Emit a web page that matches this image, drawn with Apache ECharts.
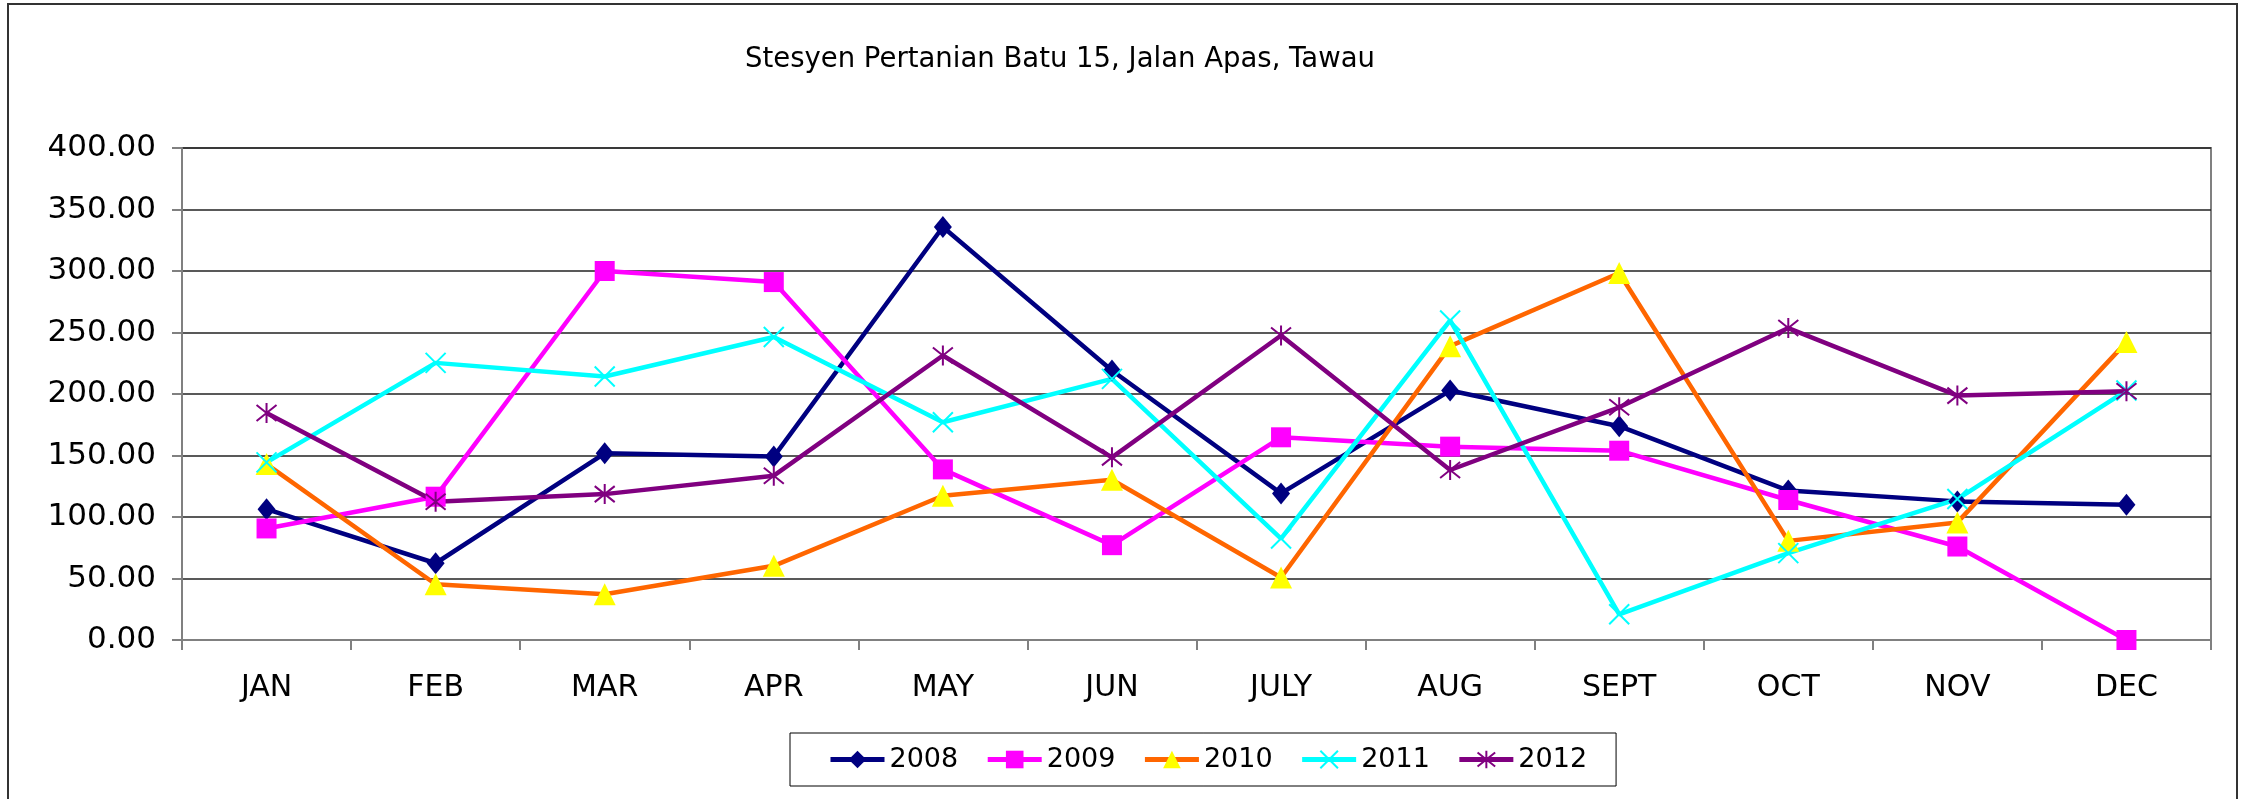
<!DOCTYPE html>
<html>
<head>
<meta charset="utf-8">
<script src="https://cdn.jsdelivr.net/npm/echarts@6/dist/echarts.min.js"></script>
<style>
html,body{margin:0;padding:0;background:#fff;}
#chart{width:2249px;height:799px;}
</style>
</head>
<body>
<div id="chart"></div>
<script>
const titleText = 'Stesyen Pertanian Batu 15, Jalan Apas, Tawau';
const months = ['JAN','FEB','MAR','APR','MAY','JUN','JULY','AUG','SEPT','OCT','NOV','DEC'];
const yTicks = [0, 50, 100, 150, 200, 250, 300, 350, 400];
const s2008 = [106.4, 62.4, 151.8, 149.1, 335.8, 219.1, 119.2, 202.8, 173.8, 121.5, 112.7, 110.0];
const s2009 = [90.7, 116.5, 300.0, 291.0, 138.7, 77.1, 164.8, 157.2, 153.9, 113.8, 76.0, 0.0];
const s2010 = [143.0, 45.3, 37.2, 60.3, 117.3, 130.3, 50.8, 238.9, 298.4, 80.6, 95.6, 242.2];
const s2011 = [144.4, 225.3, 214.2, 246.3, 177.0, 212.3, 82.5, 259.8, 20.9, 70.6, 114.6, 202.8];
const s2012 = [184.6, 112.4, 118.6, 133.6, 231.3, 148.5, 247.6, 138.2, 189.2, 253.6, 198.7, 202.3];

const FONT = 'DejaVu Sans';
const chart = echarts.init(document.getElementById('chart'), null, {renderer: 'canvas'});

const xPath = 'path://M0,0L20,20M20,0L0,20';
const starPath = 'path://M0,2L20,18M20,2L0,18M10,0L10,20';

function mk(name, data, lineColor, markColor, symbol, size, stroke) {
  return {
    name: name, type: 'line', data: data,
    symbol: symbol, symbolSize: size,
    lineStyle: {color: lineColor, width: 4.5},
    itemStyle: stroke ? {color: 'rgba(0,0,0,0)', borderColor: markColor, borderWidth: 2}
                      : {color: markColor, borderColor: markColor, borderWidth: 0},
    emphasis: {disabled: true}
  };
}

chart.setOption({
  animation: false,
  backgroundColor: '#fff',
  title: {
    text: titleText, left: 1055, top: 41, textAlign: 'center',
    textStyle: {fontFamily: FONT, fontSize: 27.5, fontWeight: 'normal', color: '#000'}
  },
  graphic: [{
    type: 'rect', shape: {x: 8, y: 4, width: 2229, height: 820},
    style: {fill: 'none', stroke: '#333', lineWidth: 2}, silent: true
  }],
  grid: {left: 182, right: 38, top: 148, bottom: 159, show: true, borderColor: '#808080', borderWidth: 2},
  legend: {
    left: 790, top: 733, data: ['2008','2009','2010','2011','2012'],
    itemWidth: 54, itemHeight: 22, itemGap: 27,
    padding: [13, 29, 13, 38], borderColor: '#000', borderWidth: 1,
    lineStyle: {width: 5},
    textStyle: {fontFamily: FONT, fontSize: 27, color: '#000'}
  },
  xAxis: {
    type: 'category', data: months, boundaryGap: true,
    axisLine: {lineStyle: {color: '#808080', width: 2}},
    axisTick: {show: true, length: 10, lineStyle: {color: '#808080', width: 2}},
    axisLabel: {fontFamily: FONT, fontSize: 30, color: '#000', margin: 33},
    splitLine: {show: false}
  },
  yAxis: {
    type: 'value', min: 0, max: 400, interval: 50,
    axisLine: {show: true, lineStyle: {color: '#808080', width: 2}},
    axisTick: {show: true, length: 10, lineStyle: {color: '#808080', width: 2}},
    axisLabel: {fontFamily: FONT, fontSize: 31, color: '#000', margin: 26,
      formatter: v => v.toFixed(2)},
    splitLine: {show: true, lineStyle: {color: '#222', width: 1.5}}
  },
  series: [
    mk('2008', s2008, '#000080', '#000080', 'diamond', [18, 22], false),
    mk('2009', s2009, '#FF00FF', '#FF00FF', 'rect', 20, false),
    mk('2010', s2010, '#FF6600', '#FFFF00', 'triangle', 22, false),
    mk('2011', s2011, '#00FFFF', '#00FFFF', xPath, 20, true),
    mk('2012', s2012, '#800080', '#800080', starPath, 20, true)
  ]
});
</script>
</body>
</html>
